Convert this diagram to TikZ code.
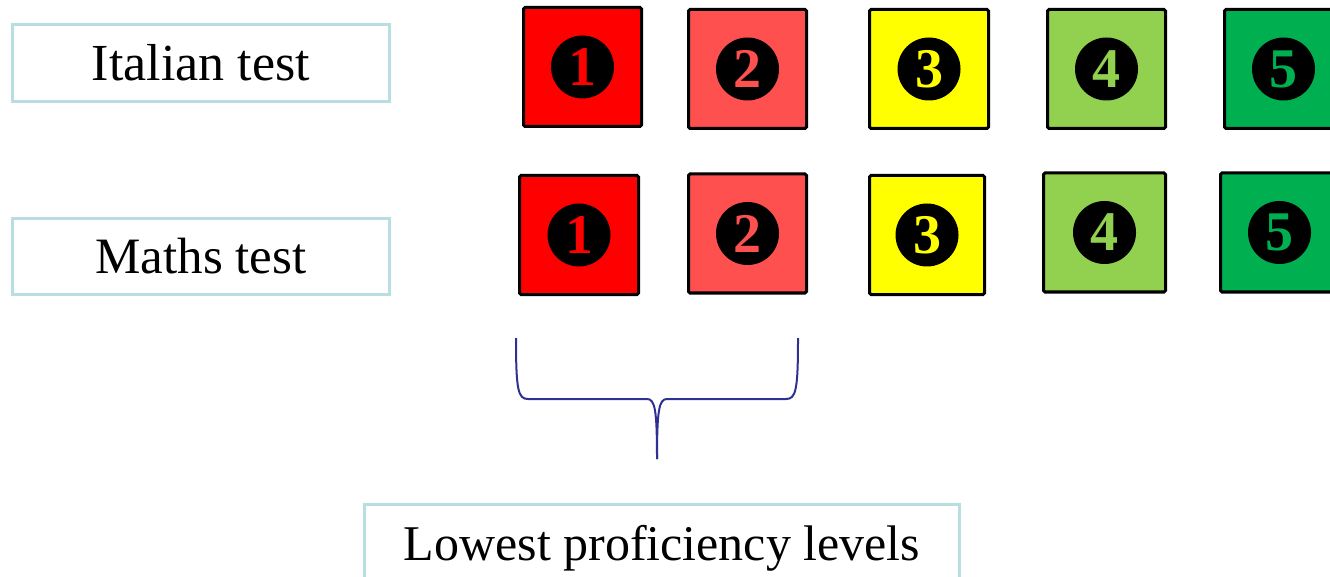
\documentclass[tikz,border=0pt]{standalone}
\usepackage{fontspec}
\setmainfont{Liberation Serif}
\definecolor{lvA}{HTML}{FF0000}
\definecolor{lvB}{HTML}{FF5050}
\definecolor{lvC}{HTML}{FFFF00}
\definecolor{lvD}{HTML}{92D050}
\definecolor{lvE}{HTML}{00B050}
\definecolor{lblcol}{HTML}{B7DFE2}
\definecolor{bracecol}{HTML}{2E3192}
\begin{document}
\begin{tikzpicture}[x=1pt,y=-1pt,
  lbl/.style={draw=lblcol, line width=3pt, minimum width=377pt, minimum height=77pt,
    inner sep=0pt, font=\fontsize{50}{60}\selectfont, text height=35pt, text depth=0pt},
  lvl/.style={draw=black, line width=3pt, rounded corners=1.5pt, minimum width=118pt,
    minimum height=119pt, inner sep=0pt},
  num/.style={circle, fill=black, minimum size=63pt, inner sep=0pt,
    font=\fontsize{56}{60}\selectfont\bfseries},
  bracestyle/.style={draw=bracecol, line width=2pt}]
\useasboundingbox (0,0) rectangle (1330,577);
\clip (0,0) rectangle (1330,577);
% labels
\node[lbl, font=\fontsize{52}{60}\selectfont, text height=36pt] (ital) at (201,63) {Italian test};
\node[lbl, minimum height=76pt, font=\fontsize{51}{60}\selectfont] (math) at (201,256.5) {Maths test};
\node[lbl, minimum width=595pt] (low) at (662,543) {Lowest proficiency levels};
% row 1
\node[lvl, fill=lvA] (a1) at (582.5,67) {};
\node[lvl, fill=lvB] (a2) at (747.5,69) {};
\node[lvl, fill=lvC, minimum width=119pt] (a3) at (929,69) {};
\node[lvl, fill=lvD] (a4) at (1106.5,69) {};
\node[lvl, fill=lvE] (a5) at (1283.5,69) {};
% row 2
\node[lvl, fill=lvA, minimum width=119pt] (b1) at (579,235) {};
\node[lvl, fill=lvB] (b2) at (747.5,233.5) {};
\node[lvl, fill=lvC, minimum width=115pt] (b3) at (927,235) {};
\node[lvl, fill=lvD, minimum width=122pt] (b4) at (1104.5,232.5) {};
\node[lvl, fill=lvE] (b5) at (1279.5,232.5) {};
% numbers
\node[num, text=lvA] (na1) at (a1.center) {1};
\node[num, text=lvB] (na2) at (a2.center) {2};
\node[num, text=lvC] (na3) at (a3.center) {3};
\node[num, text=lvD] (na4) at (a4.center) {4};
\node[num, text=lvE] (na5) at (a5.center) {5};
\node[num, text=lvA] (nb1) at (b1.center) {1};
\node[num, text=lvB] (nb2) at (b2.center) {2};
\node[num, text=lvC] (nb3) at (b3.center) {3};
\node[num, text=lvD] (nb4) at (b4.center) {4};
\node[num, text=lvE] (nb5) at (b5.center) {5};
% brace
\coordinate (bl) at (516,338);
\coordinate (br) at (798,338);
\coordinate (bt) at (657,459);
\draw[bracestyle] (bl) .. controls (516,390) and (518,399) .. (528,399) -- (647,399)
  .. controls (655,399) and (657,410) .. (bt);
\draw[bracestyle] (br) .. controls (798,390) and (796,399) .. (786,399) -- (667,399)
  .. controls (659,399) and (657,410) .. (bt);
\end{tikzpicture}
\end{document}
